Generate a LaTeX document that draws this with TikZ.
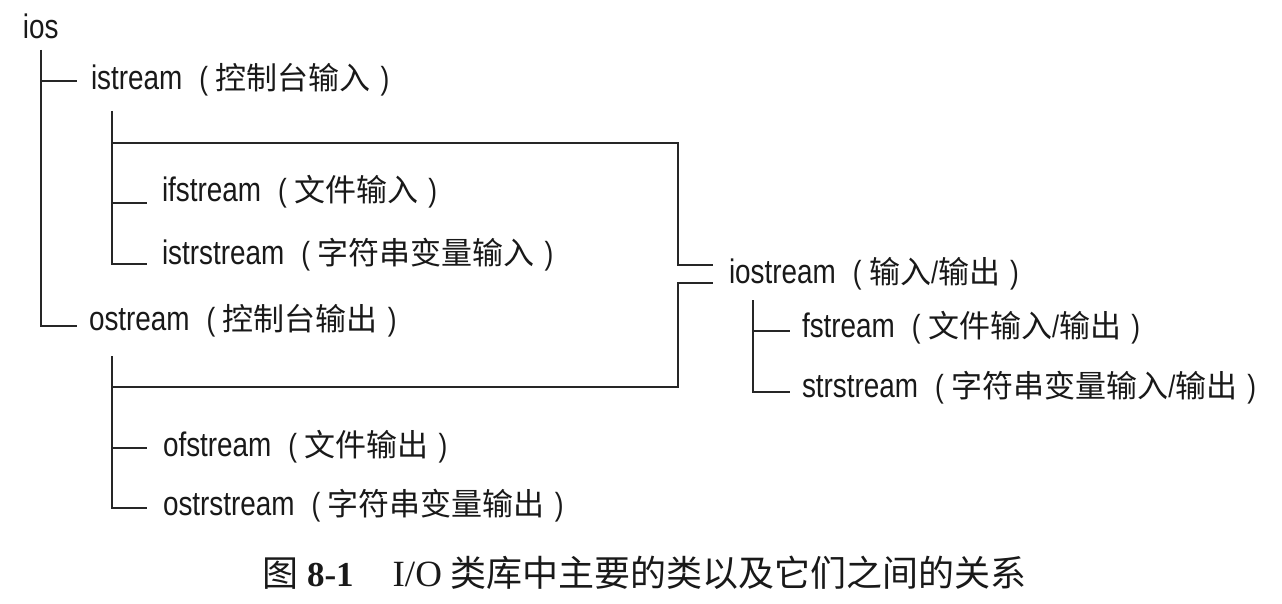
\documentclass[tikz,border=0pt]{standalone}
\usepackage{fontspec}
\setmainfont{Liberation Sans}
\newfontfamily\latf[FakeStretch=0.82]{Liberation Sans}
\newfontfamily\cjkf{Noto Sans CJK SC}
\newfontfamily\serf{Liberation Serif}
\newcommand{\mylab}[2]{{\fontsize{34}{40}\selectfont\latf #1}{\fontsize{32}{36}\selectfont\latf\hspace{17pt}(\hspace{7.5pt}}{\fontsize{31}{36}\selectfont\cjkf #2}{\fontsize{32}{36}\selectfont\latf\hspace{10pt})}}
\begin{document}
\begin{tikzpicture}[x=1pt,y=-1pt,
  conn/.style={draw=black!85,line width=1.7pt,line cap=butt,line join=miter},
  lab/.style={anchor=base west,inner sep=0pt,outer sep=0pt,text=black!90}]
\useasboundingbox[fill=white] (0,0) rectangle (1282,604);

% labels
\node[lab] (ios) at (23,39) {{\fontsize{34}{40}\selectfont\latf ios}};
\node[lab] (istream) at (91,90) {\mylab{istream}{控制台输入}};
\node[lab] (ifstream) at (162,202) {\mylab{ifstream}{文件输入}};
\node[lab] (istrstream) at (162,264) {\mylab{istrstream}{字符串变量输入}};
\node[lab] (ostream) at (89,330) {\mylab{ostream}{控制台输出}};
\node[lab] (iostream) at (729,283) {\mylab{iostream}{输入{\latf/}输出}};
\node[lab] (fstream) at (802,337) {\mylab{fstream}{文件输入{\latf/}输出}};
\node[lab] (strstream) at (802,397) {\mylab{strstream}{字符串变量输入{\latf/}输出}};
\node[lab] (ofstream) at (163,456) {\mylab{ofstream}{文件输出}};
\node[lab] (ostrstream) at (163,515) {\mylab{ostrstream}{字符串变量输出}};

% caption
\node[lab] (caption) at (262,586) {\fontsize{36}{40}\selectfont\cjkf 图\hspace{9pt}{\fontsize{35}{40}\selectfont\serf\bfseries 8-1}\hspace{39pt}{\fontsize{37}{40}\selectfont\serf I/O}\hspace{9pt}类库中主要的类以及它们之间的关系};

% connector points
\coordinate (ios-s) at (41,50);
\coordinate (istream-w) at (77,81);
\coordinate (ostream-w) at (77,326);
\coordinate (istream-s) at (112,111);
\coordinate (ifstream-w) at (147,203);
\coordinate (istrstream-w) at (147,264);
\coordinate (ostream-s) at (112,356);
\coordinate (ofstream-w) at (147,448);
\coordinate (ostrstream-w) at (147,508);
\coordinate (k1) at (678,143);
\coordinate (k2) at (678,387);
\coordinate (iostream-w1) at (713,265);
\coordinate (iostream-w2) at (713,283);
\coordinate (iostream-s) at (753,300);
\coordinate (fstream-w) at (790,331);
\coordinate (strstream-w) at (790,392);

% ios tree
\draw[conn] (ios-s) |- (ostream-w);
\draw[conn] (ios-s |- istream-w) -- (istream-w);
% istream tree
\draw[conn] (istream-s) |- (istrstream-w);
\draw[conn] (istream-s |- ifstream-w) -- (ifstream-w);
\draw[conn] (istream-s |- k1) -- (k1) |- (iostream-w1);
% ostream tree
\draw[conn] (ostream-s) |- (ostrstream-w);
\draw[conn] (ostream-s |- ofstream-w) -- (ofstream-w);
\draw[conn] (ostream-s |- k2) -- (k2) |- (iostream-w2);
% iostream tree
\draw[conn] (iostream-s) |- (strstream-w);
\draw[conn] (iostream-s |- fstream-w) -- (fstream-w);
\end{tikzpicture}
\end{document}
